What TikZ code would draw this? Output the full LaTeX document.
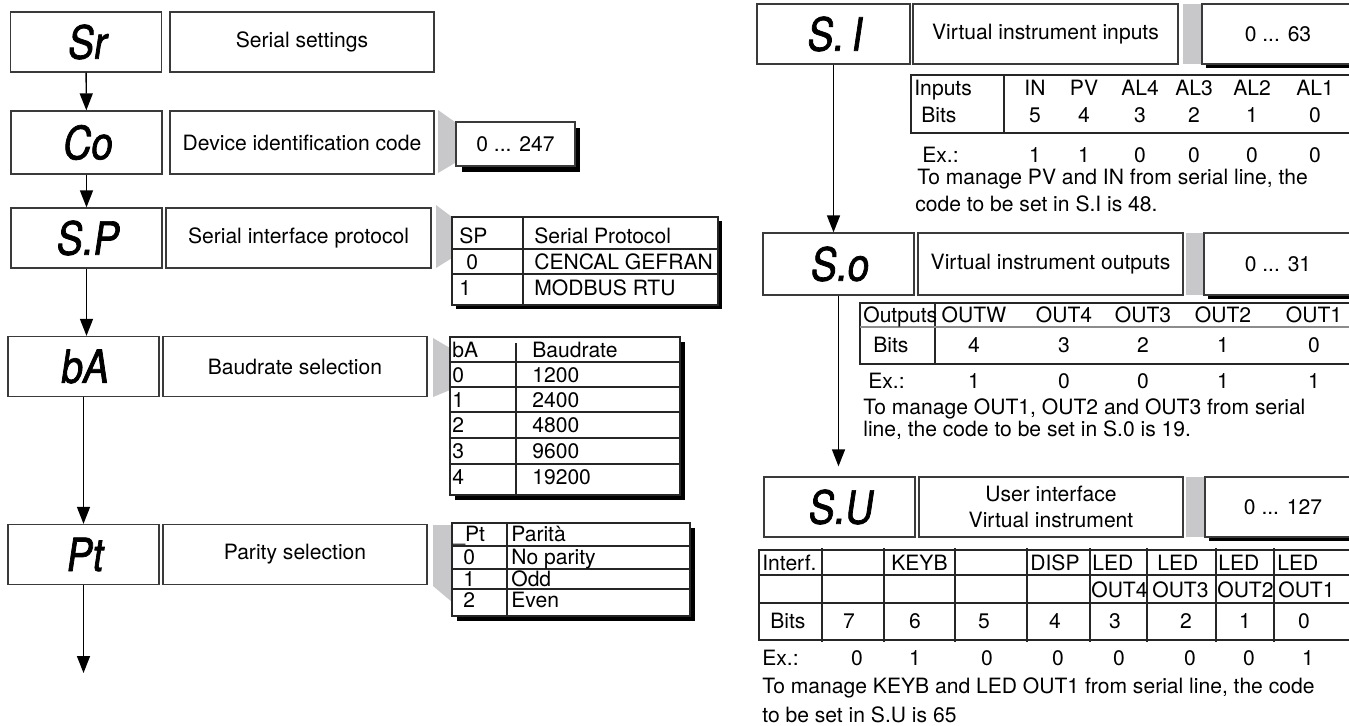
\documentclass[tikz,border=0pt]{standalone}
\usepackage{fontspec}
\setmainfont{TeX Gyre Heros}
\newfontfamily\segfont[FakeSlant=0.15, FakeStretch=0.85, FakeBold=1.6]{TeX Gyre Heros}
\usetikzlibrary{arrows.meta,positioning,shadows}
\definecolor{wgray}{HTML}{C8C8CA}
\definecolor{bordergray}{HTML}{3A3A3A}

\tikzset{
  disp/.style={rectangle, draw=bordergray, line width=0.75pt, minimum width=3.02cm, minimum height=1.2cm, inner sep=0pt, font=\segfont\fontsize{26}{26}\selectfont},
  lbl/.style={rectangle, draw=bordergray, line width=0.75pt, minimum width=5.28cm, minimum height=1.2cm, inner sep=0pt, align=center, font=\fontsize{12}{14.8}\selectfont},
  valbox/.style={rectangle, draw=bordergray, fill=white, line width=0.75pt, minimum height=1.2cm, inner sep=0pt, font=\fontsize{12}{14}\selectfont},
  blackshadow/.style={drop shadow={shadow xshift=#1, shadow yshift=-#1, opacity=1, fill=black}},
  blackshadow/.default=0.08cm,
  tabframe/.style={draw=black!85, line width=0.6pt, fill=white},
  tabline/.style={draw=black!85, line width=0.6pt},
  cell/.style={anchor=west, inner sep=0pt, text height=8.6pt, text depth=0pt, font=\fontsize{12}{14}\selectfont},
  ccell/.style={cell, anchor=center},
  flow/.style={-{Triangle[length=0.34cm, width=0.26cm]}, line width=0.8pt}
}

\begin{document}
\begin{tikzpicture}[x=0.02cm, y=-0.02cm]
      \useasboundingbox (0,0) rectangle (1349,725);
      \clip (0,0) rectangle (1349,725);

      % Serial settings
      \node[disp] (sr) at (86,42) {Sr};
      \node[lbl] (srlbl) at (302,42) {Serial settings};

      % Device identification code
      \node[disp, minimum height=1.26cm] (co) at (86.5,142.5) {Co};
      \node[lbl, minimum height=1.26cm] (colbl) at (302,142.5) {Device identification code};
      \fill[wgray] (438,110) -- (455,122) -- (455,163) -- (438,173) -- cycle;
      \node[valbox, blackshadow=0.11cm, minimum width=2.38cm, minimum height=0.88cm] (coval) at (515.5,144) {0 ... 247};

      % Serial interface protocol
      \node[disp] (sp) at (86.5,238) {S.P};
      \node[lbl, minimum width=5.3cm] (splbl) at (298.5,238) {Serial interface protocol};
      \fill[wgray] (436,205) -- (452,217) -- (452,258) -- (436,268) -- cycle;
      \draw[tabframe, blackshadow=0.07cm] (452,217) rectangle (718,305);
      \draw[tabline] (523,217) -- (523,305) (452,249) -- (718,249) (452,274) -- (718,274);
      \node[cell] (sphead) at (459,236) {SP};
      \node[cell] (spheadt) at (534,236) {Serial Protocol};
      \node[cell] (sp0) at (466,262) {0};
      \node[cell] (sp0t) at (534,262) {CENCAL GEFRAN};
      \node[cell] (sp1) at (459,288) {1};
      \node[cell] (sp1t) at (534,288) {MODBUS RTU};

      % Baudrate selection
      \node[disp] (ba) at (83.5,366.5) {bA};
      \node[lbl] (balbl) at (295,366.5) {Baudrate selection};
      \fill[wgray] (433,338) -- (450,348) -- (450,390) -- (433,397) -- cycle;
      \draw[tabframe, blackshadow=0.1cm] (450,337) rectangle (680,495);
      \draw[tabline] (516,343) -- (516,495);
      \foreach \y in {362,387,412,438,464}
        \draw[tabline] (450,\y) -- (680,\y);
      \node[cell] (bahead) at (452,350) {bA};
      \node[cell] (baheadt) at (532,350) {Baudrate};
      \foreach \i/\b/\y in {0/1200/375, 1/2400/400, 2/4800/425, 3/9600/451, 4/19200/477} {
        \node[cell] (bd\i) at (452,\y) {\i};
        \node[cell] (bv\i) at (532,\y) {\b};
      }

      % Parity selection
      \node[disp] (pt) at (83.5,554.5) {Pt};
      \node[lbl] (ptlbl) at (295,554.5) {Parity selection};
      \fill[wgray] (433,525) -- (452,525) -- (452,602) -- (433,586) -- cycle;
      \draw[tabframe, blackshadow=0.1cm] (452,523) rectangle (690,616);
      \draw[tabline] (507,523) -- (507,616);
      \foreach \y in {546,569,589}
        \draw[tabline] (452,\y) -- (690,\y);
      \node[cell] (pthead) at (453,534) {\_Pt};
      \node[cell] (ptheadt) at (511,534) {Parità};
      \foreach \i/\p/\y in {0/No parity/557, 1/Odd/579, 2/Even/600} {
        \node[cell] (pd\i) at (463,\y) {\i};
        \node[cell] (pv\i) at (511,\y) {\p};
      }
      \coordinate (ptend) at (83.5,673);

      % Virtual instrument inputs
      \node[disp, minimum width=3.06cm] (si) at (833.5,34) {S.\,I};
      \node[lbl, minimum width=5.3cm] (silbl) at (1045.5,34) {Virtual instrument inputs};
      \fill[wgray] (1183,4) rectangle (1202,64);
      \node[valbox, blackshadow, minimum width=3.04cm] (sival) at (1278,34) {0 ... 63};
      \draw[tabframe] (911,75) rectangle (1360,133);
      \draw[tabline] (1004,75) -- (1004,133);
      \node[cell] (inhead) at (914,88) {Inputs};
      \node[cell] (inbits) at (921,115) {Bits};
      \node[cell] (inex) at (922,155) {Ex.:};
      \foreach \n/\b/\e/\x [count=\i] in {IN/5/1/1035, PV/4/1/1084, AL4/3/0/1140, AL3/2/0/1194, AL2/1/0/1252, AL1/0/0/1315} {
        \node[ccell] (inn\i) at (\x,88) {\n};
        \node[ccell] (inb\i) at (\x,115) {\b};
        \node[ccell] (inx\i) at (\x,155) {\e};
      }
      \node[cell] (innote1) at (917,177) {To manage PV and IN from serial line, the};
      \node[cell] (innote2) at (915,204) {code to be set in S.I is 48.};

      % Virtual instrument outputs
      \node[disp, minimum height=1.24cm] (so) at (838.5,264) {S.o};
      \node[lbl, minimum width=5.3cm, minimum height=1.24cm] (solbl) at (1050.5,264) {Virtual instrument outputs};
      \fill[wgray] (1186,233) rectangle (1204,295);
      \node[valbox, blackshadow, minimum width=2.96cm, minimum height=1.24cm] (soval) at (1278,264) {0 ... 31};
      \draw[tabframe] (860,303) rectangle (1360,364);
      \draw[tabline] (935,303) -- (935,364);
      \draw[tabline, draw=black!45] (860,327) -- (1360,327);
      \node[cell] (outhead) at (863,315) {Outputs};
      \node[cell] (outbits) at (873,345) {Bits};
      \node[cell] (outex) at (868,381) {Ex.:};
      \foreach \n/\b/\e/\x [count=\i] in {OUTW/4/1/974, OUT4/3/0/1064, OUT3/2/0/1143, OUT2/1/1/1223, OUT1/0/1/1314} {
        \node[ccell] (outn\i) at (\x,315) {\n};
        \node[ccell] (outb\i) at (\x,345) {\b};
        \node[ccell] (outx\i) at (\x,381) {\e};
      }
      \node[cell] (outnote1) at (863,407) {To manage OUT1, OUT2 and OUT3 from serial};
      \node[cell] (outnote2) at (863,429) {line, the code to be set in S.0 is 19.};

      % User interface
      \node[disp] (su) at (839.5,507) {S.U};
      \node[lbl] (sulbl) at (1051,507) {User interface\\Virtual instrument};
      \fill[wgray] (1186,477) rectangle (1205,537);
      \node[valbox, blackshadow, minimum width=3.12cm] (suval) at (1283,507) {0 ... 127};
      \draw[tabframe] (759,550) rectangle (1360,640);
      \draw[tabline] (759,575) -- (1360,575) (759,603) -- (1360,603);
      \foreach \x in {822,884,955,1027,1090,1147,1216,1274}
        \draw[tabline] (\x,548) -- (\x,642);
      \node[cell] (uihead) at (762,563) {Interf.};
      \foreach \t/\x [count=\i] in {KEYB/891, DISP/1030, LED/1092, LED/1157, LED/1218, LED/1277}
        \node[cell] (uin\i) at (\x,563) {\t};
      \foreach \t/\x [count=\i] in {OUT4/1091, OUT3/1152, OUT2/1217, OUT1/1278}
        \node[cell] (uio\i) at (\x,590) {\t};
      \node[cell] (uibits) at (770,621) {Bits};
      \foreach \b/\x [count=\i] in {7/849, 6/915, 5/984, 4/1055, 3/1115, 2/1186, 1/1245, 0/1304}
        \node[ccell] (uib\i) at (\x,621) {\b};
      \node[cell] (uiex) at (762,658) {Ex.:};
      \foreach \e/\x [count=\i] in {0/857, 1/915, 0/987, 0/1058, 0/1119, 0/1190, 0/1249, 1/1308}
        \node[ccell] (uix\i) at (\x,658) {\e};
      \node[cell] (uinote1) at (762,686) {To manage KEYB and LED OUT1 from serial line, the code};
      \node[cell] (uinote2) at (762,715) {to be set in S.U is 65};

      % Arrows
      \draw[flow] (sr) -- (co);
      \draw[flow] (co) -- (sp);
      \draw[flow] (sp.south) -- (sp.south |- ba.north);
      \draw[flow] (ba) -- (pt);
      \draw[flow] (pt) -- (ptend);
      \draw[flow] (si.south) -- (si.south |- so.north);
      \draw[flow, shorten >=0.2cm] (so.south) -- (so.south |- su.north);
    \end{tikzpicture}
\end{document}
